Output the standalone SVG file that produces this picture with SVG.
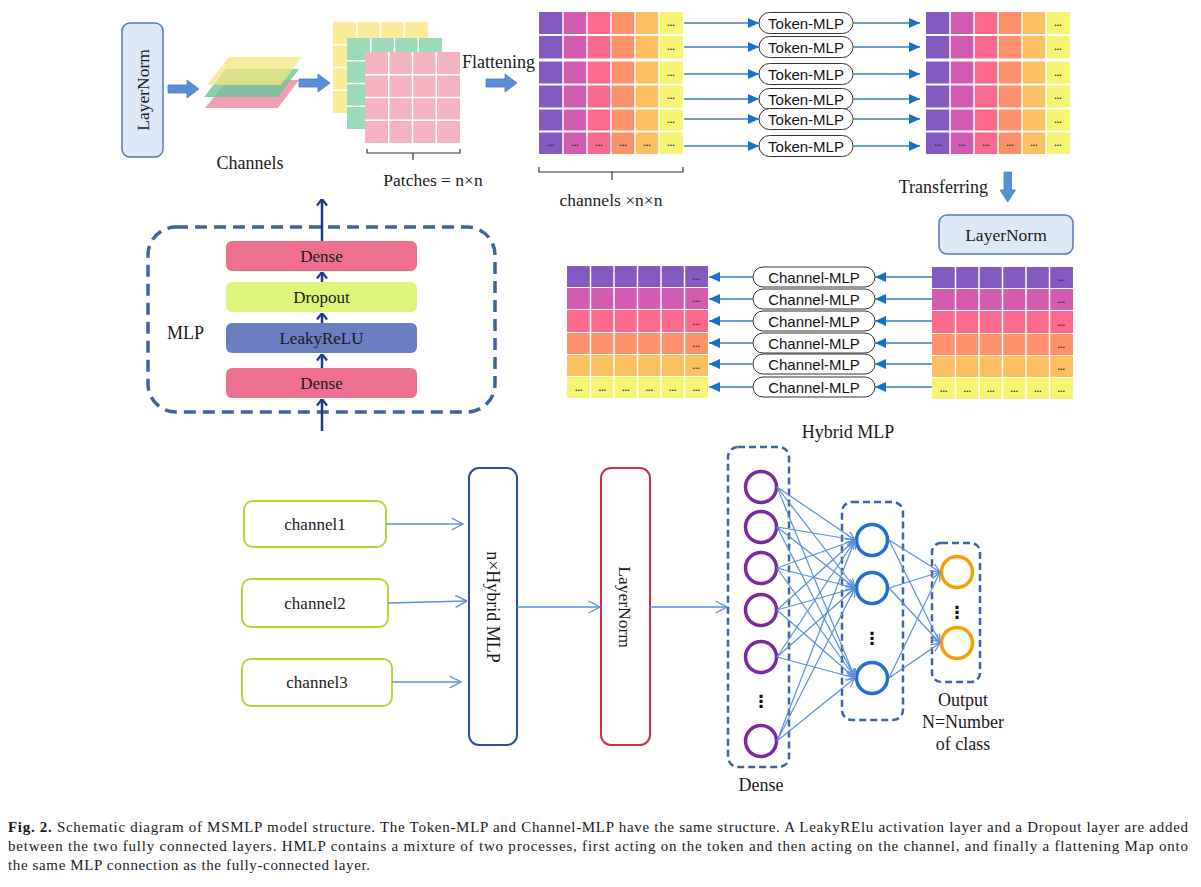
<svg xmlns="http://www.w3.org/2000/svg" xmlns:xlink="http://www.w3.org/1999/xlink" width="1201" height="887" viewBox="0 0 1201 887">
<style>
.serif{font-family:"Liberation Serif","Times New Roman",serif;fill:#1a1a1a}
.sans{font-family:"Liberation Sans",Arial,sans-serif;fill:#111}
.dots{font-family:"Liberation Sans",Arial,sans-serif;font-size:9px;font-weight:bold;fill:#2a2a40;text-anchor:middle}
.pill{fill:#fff;stroke:#333;stroke-width:1}
.ln{fill:#dde8f8;stroke:#5678b0;stroke-width:1.5}
.blk{fill:#5a8ed6;stroke:#4a7cc4;stroke-width:0.8}
.tok{stroke:#3a7fc0;stroke-width:1.3;fill:none;marker-end:url(#tri)}
.navy{stroke:#1f3a80;stroke-width:2.5;fill:none;marker-end:url(#chev)}
.lb{stroke:#5b8fd8;stroke-width:1.4;fill:none;marker-end:url(#openBig)}
.nn{stroke:#5b8fd8;stroke-width:1.2;fill:none;marker-end:url(#openSm)}
.dash{fill:none;stroke:#3f62a0;stroke-width:2.5;stroke-dasharray:7 4}
.chbox{fill:#fff;stroke:#b5d635;stroke-width:2}
.pc{fill:#fff;stroke:#7b2a9e;stroke-width:3.5}
.bc{fill:#fff;stroke:#2170d0;stroke-width:3.5}
.oc{fill:#fff;stroke:#f5a00a;stroke-width:3.5}
.vd{font-family:"DejaVu Sans",sans-serif;font-size:17px;font-weight:bold;fill:#111;text-anchor:middle}
.wl{stroke:#fff;stroke-width:1.5}
</style>
<defs>
<marker id="tri" viewBox="0 0 11 10" refX="11" refY="5" markerWidth="11" markerHeight="10" markerUnits="userSpaceOnUse" orient="auto"><path d="M0,0 L11,5 L0,10 Z" fill="#1670c8"/></marker>
<marker id="chev" viewBox="0 0 8 12" refX="7.5" refY="6" markerWidth="8" markerHeight="12" markerUnits="userSpaceOnUse" orient="auto"><path d="M1,1 L7.5,6 L1,11" fill="none" stroke="#1f3a80" stroke-width="2.2"/></marker>
<marker id="openBig" viewBox="0 0 13 14" refX="12.5" refY="7" markerWidth="13" markerHeight="14" markerUnits="userSpaceOnUse" orient="auto"><path d="M1,1 L12.5,7 L1,13" fill="none" stroke="#5b8fd8" stroke-width="1.4"/></marker>
<marker id="openSm" viewBox="0 0 10 9" refX="9.5" refY="4.5" markerWidth="10" markerHeight="9" markerUnits="userSpaceOnUse" orient="auto"><path d="M0.5,0.5 L9.5,4.5 L0.5,8.5" fill="none" stroke="#5b8fd8" stroke-width="1.2"/></marker>
<g id="tokGrid">
<rect x="0" y="0" width="24" height="142" fill="#8459c0"/>
<rect x="24" y="0" width="24" height="142" fill="#d35cb0"/>
<rect x="48" y="0" width="24" height="142" fill="#fb6a8c"/>
<rect x="72" y="0" width="24" height="142" fill="#fd916a"/>
<rect x="96" y="0" width="24" height="142" fill="#fdc060"/>
<rect x="120" y="0" width="24" height="142" fill="#f6f472"/>
<path class="wl" d="M24,0V142M48,0V142M72,0V142M96,0V142M120,0V142"/>
<path stroke="#fff" stroke-width="2" d="M0,23H144M0,72.5H144M0,96.5H144M0,119.5H144"/>
<path stroke="#fff" stroke-width="3" d="M0,48H144"/>
<text class="dots" x="132" y="14">...</text>
<text class="dots" x="132" y="38">...</text>
<text class="dots" x="132" y="63.5">...</text>
<text class="dots" x="132" y="87">...</text>
<text class="dots" x="132" y="111">...</text>
<text class="dots" x="12" y="134">...</text>
<text class="dots" x="36" y="134">...</text>
<text class="dots" x="60" y="134">...</text>
<text class="dots" x="84" y="134">...</text>
<text class="dots" x="108" y="134">...</text>
<text class="dots" x="132" y="134">...</text>
</g>
<g id="chGrid">
<rect x="0" y="0" width="141" height="21" fill="#8459c0"/>
<rect x="0" y="22" width="141" height="21" fill="#d35cb0"/>
<rect x="0" y="44" width="141" height="22" fill="#fb6a8c"/>
<rect x="0" y="67" width="141" height="21" fill="#fd916a"/>
<rect x="0" y="89" width="141" height="21" fill="#fdc060"/>
<rect x="0" y="111" width="141" height="21" fill="#f6f472"/>
<path class="wl" d="M23.5,0V132M47,0V132M70.5,0V132M94,0V132M117.5,0V132"/>
<text class="dots" x="129.25" y="14">...</text>
<text class="dots" x="129.25" y="36">...</text>
<text class="dots" x="129.25" y="58.5">...</text>
<text class="dots" x="129.25" y="81">...</text>
<text class="dots" x="129.25" y="103">...</text>
<text class="dots" x="11.75" y="125">...</text>
<text class="dots" x="35.25" y="125">...</text>
<text class="dots" x="58.75" y="125">...</text>
<text class="dots" x="82.25" y="125">...</text>
<text class="dots" x="105.75" y="125">...</text>
<text class="dots" x="129.25" y="125">...</text>
</g>
</defs>
<rect width="1201" height="887" fill="#fff"/>

<g id="layernorm-top">
<rect class="ln" x="122" y="23" width="41" height="134" rx="8"/>
<text class="serif" font-size="17.5" text-anchor="middle" transform="translate(148.5,90) rotate(-90)">LayerNorm</text>
</g>

<g id="channels">
<polygon points="228,80 299,80 278,108 205,108" fill="#f4a0b4"/>
<polygon points="226,69 299,69 278,97 204,97" fill="#6cc49a" fill-opacity="0.8"/>
<polygon points="229,57 302,57 281,85 207,85" fill="#f5e680" fill-opacity="0.75"/>
<text class="serif" font-size="18" x="250" y="169" text-anchor="middle">Channels</text>
</g>

<g id="patches">
<rect x="333" y="22" width="95" height="91" fill="#fbeb9a"/>
<path class="wl" d="M356.75,22V113M380.5,22V113M404.25,22V113M333,44.75H428M333,67.5H428M333,90.25H428"/>
<rect x="347" y="38" width="95" height="91" fill="#9cd9b9"/>
<path class="wl" d="M370.75,38V129M394.5,38V129M418.25,38V129M347,60.75H442M347,83.5H442M347,106.25H442"/>
<rect x="365" y="52" width="95" height="91" fill="#f4b3c0"/>
<path class="wl" d="M388.75,52V143M412.5,52V143M436.25,52V143M365,74.75H460M365,97.5H460M365,120.25H460"/>
<path d="M367,149V153H460V149M413,153V160" fill="none" stroke="#333" stroke-width="1.2"/>
<text class="serif" font-size="17.5" x="433" y="186" text-anchor="middle">Patches = n×n</text>
</g>

<g id="flattening-label">
<text class="serif" font-size="18" x="462" y="68">Flattening</text>
</g>

<g id="token-grid-in">
<use xlink:href="#tokGrid" href="#tokGrid" x="539" y="12"/>
<path d="M539,167V172H683V167M612,172V180" fill="none" stroke="#333" stroke-width="1.2"/>
<text class="serif" font-size="17.5" x="611" y="206" text-anchor="middle">channels ×n×n</text>
</g>

<g id="token-grid-out">
<use xlink:href="#tokGrid" href="#tokGrid" x="926" y="12"/>
</g>

<g id="token-mlps">
<rect class="pill" x="759" y="12.5" width="94" height="21" rx="10.5"/>
<rect class="pill" x="759" y="36.5" width="94" height="21" rx="10.5"/>
<rect class="pill" x="759" y="63.5" width="94" height="21" rx="10.5"/>
<rect class="pill" x="759" y="88.5" width="94" height="21" rx="10.5"/>
<rect class="pill" x="759" y="108.5" width="94" height="21" rx="10.5"/>
<rect class="pill" x="759" y="135.5" width="94" height="21" rx="10.5"/>
<g class="sans" font-size="15" text-anchor="middle">
<text x="806" y="28.5">Token-MLP</text>
<text x="806" y="52.5">Token-MLP</text>
<text x="806" y="79.5">Token-MLP</text>
<text x="806" y="104.5">Token-MLP</text>
<text x="806" y="124.5">Token-MLP</text>
<text x="806" y="151.5">Token-MLP</text>
</g>
</g>

<g id="transferring">
<text class="serif" font-size="18" x="988" y="193" text-anchor="end">Transferring</text>
<path class="blk" d="M1004,172H1011.5V190H1015.5L1007.75,202L1000,190H1004Z"/>
</g>

<g id="layernorm-right">
<rect class="ln" x="939" y="215" width="134" height="39" rx="8"/>
<text class="serif" font-size="17.5" x="1006" y="241" text-anchor="middle">LayerNorm</text>
</g>

<g id="channel-grid-out">
<use xlink:href="#chGrid" href="#chGrid" x="567" y="266"/>
</g>
<g id="channel-grid-in">
<use xlink:href="#chGrid" href="#chGrid" x="932" y="267"/>
</g>

<g id="channel-mlps">
<rect class="pill" x="753" y="267" width="122" height="20" rx="10"/>
<rect class="pill" x="753" y="289" width="122" height="20" rx="10"/>
<rect class="pill" x="753" y="311" width="122" height="20" rx="10"/>
<rect class="pill" x="753" y="333" width="122" height="20" rx="10"/>
<rect class="pill" x="753" y="354" width="122" height="20" rx="10"/>
<rect class="pill" x="753" y="377" width="122" height="20" rx="10"/>
<g class="sans" font-size="15" text-anchor="middle">
<text x="814" y="282.5">Channel-MLP</text>
<text x="814" y="304.5">Channel-MLP</text>
<text x="814" y="326.5">Channel-MLP</text>
<text x="814" y="348.5">Channel-MLP</text>
<text x="814" y="369.5">Channel-MLP</text>
<text x="814" y="392.5">Channel-MLP</text>
</g>
</g>

<g id="mlp-block">
<rect x="148" y="227" width="347" height="185" rx="28" fill="none" stroke="#3f62a0" stroke-width="3.5" stroke-dasharray="12 7"/>
<text class="serif" font-size="18" x="167" y="339">MLP</text>
</g>
<g id="dense-top">
<rect x="226" y="241" width="191" height="30" rx="6" fill="#ee7090"/>
<text class="serif" font-size="17" x="321.5" y="262" text-anchor="middle">Dense</text>
</g>
<g id="dropout">
<rect x="226" y="282" width="191" height="30" rx="6" fill="#ddf57a"/>
<text class="serif" font-size="17" x="321.5" y="303" text-anchor="middle">Dropout</text>
</g>
<g id="leakyrelu">
<rect x="226" y="323" width="191" height="30" rx="6" fill="#6a7fc0"/>
<text class="serif" font-size="17" x="321.5" y="344" text-anchor="middle">LeakyReLU</text>
</g>
<g id="dense-bottom">
<rect x="226" y="368" width="191" height="30" rx="6" fill="#ee7090"/>
<text class="serif" font-size="17" x="321.5" y="389" text-anchor="middle">Dense</text>
</g>

<g id="channel1">
<rect class="chbox" x="244" y="501" width="142" height="46" rx="9"/>
<text class="serif" font-size="17" x="315" y="530" text-anchor="middle">channel1</text>
</g>
<g id="channel2">
<rect class="chbox" x="242" y="579" width="146" height="48" rx="9"/>
<text class="serif" font-size="17" x="315" y="609" text-anchor="middle">channel2</text>
</g>
<g id="channel3">
<rect class="chbox" x="242" y="659" width="150" height="47" rx="9"/>
<text class="serif" font-size="17" x="317" y="688" text-anchor="middle">channel3</text>
</g>
<g id="hybrid-mlp-stack">
<rect x="469" y="468" width="48" height="277" rx="10" fill="#fff" stroke="#2d4e9e" stroke-width="2"/>
<text class="serif" font-size="18" text-anchor="middle" transform="translate(487,607) rotate(90)">n×Hybrid MLP</text>
</g>
<g id="layernorm-bottom">
<rect x="601" y="468" width="49" height="277" rx="10" fill="#fff" stroke="#c9304c" stroke-width="2"/>
<text class="serif" font-size="17.5" text-anchor="middle" transform="translate(619,607) rotate(90)">LayerNorm</text>
</g>

<g id="hybrid-label">
<text class="serif" font-size="18" x="848" y="438" text-anchor="middle">Hybrid MLP</text>
</g>

<g id="dense-layer">
<rect class="dash" x="728" y="447" width="61" height="320" rx="10"/>
<circle class="pc" cx="761" cy="487" r="15.5"/>
<circle class="pc" cx="761" cy="527" r="15.5"/>
<circle class="pc" cx="761" cy="568" r="15.5"/>
<circle class="pc" cx="761" cy="610" r="15.5"/>
<circle class="pc" cx="761" cy="657" r="15.5"/>
<text class="vd" x="761" y="707">⋮</text>
<circle class="pc" cx="761" cy="741" r="15.5"/>
<text class="serif" font-size="18" x="761" y="791" text-anchor="middle">Dense</text>
</g>

<g id="hidden-layer">
<rect class="dash" x="842" y="502" width="61" height="218" rx="10"/>
<circle class="bc" cx="872" cy="540" r="15.5"/>
<circle class="bc" cx="872" cy="588" r="15.5"/>
<text class="vd" x="872" y="644">⋮</text>
<circle class="bc" cx="872" cy="678" r="15.5"/>
</g>

<g id="output-layer">
<rect class="dash" x="932" y="543" width="48" height="139" rx="9"/>
<circle class="oc" cx="957" cy="572" r="15.5"/>
<text class="vd" x="957" y="618">⋮</text>
<circle class="oc" cx="957" cy="643" r="15.5"/>
<text class="serif" font-size="18" x="963" y="706" text-anchor="middle">Output</text>
<text class="serif" font-size="18" x="963" y="728" text-anchor="middle">N=Number</text>
<text class="serif" font-size="18" x="963" y="750" text-anchor="middle">of class</text>
</g>

<g id="connectors">
<path class="blk" d="M168,85H187V80L199,89L187,98V93H168Z"/>
<path class="blk" d="M299,79H318V74L330,83L318,92V87H299Z"/>
<path class="blk" d="M486,79H505V74L517,83L505,92V87H486Z"/>
<path class="tok" d="M684,23H759"/>
<path class="tok" d="M684,47H759"/>
<path class="tok" d="M684,74H759"/>
<path class="tok" d="M684,99H759"/>
<path class="tok" d="M684,119H759"/>
<path class="tok" d="M684,146H759"/>
<path class="tok" d="M853,23H920"/>
<path class="tok" d="M853,47H920"/>
<path class="tok" d="M853,74H920"/>
<path class="tok" d="M853,99H920"/>
<path class="tok" d="M853,119H920"/>
<path class="tok" d="M853,146H920"/>
<path class="tok" d="M932,277H875"/>
<path class="tok" d="M932,299H875"/>
<path class="tok" d="M932,321H875"/>
<path class="tok" d="M932,343H875"/>
<path class="tok" d="M932,364H875"/>
<path class="tok" d="M932,387H875"/>
<path class="tok" d="M753,277H709"/>
<path class="tok" d="M753,299H709"/>
<path class="tok" d="M753,321H709"/>
<path class="tok" d="M753,343H709"/>
<path class="tok" d="M753,364H709"/>
<path class="tok" d="M753,387H709"/>
<path class="navy" d="M322,241V199"/>
<path class="navy" d="M322,282V272"/>
<path class="navy" d="M322,323V313"/>
<path class="navy" d="M322,368V354"/>
<path class="navy" d="M322,431V399"/>
<path class="lb" d="M386,524L463,524"/>
<path class="lb" d="M388,603L467,601"/>
<path class="lb" d="M392,682L461,682"/>
<path class="lb" d="M517,607L600,607"/>
<path class="lb" d="M650,607L727,607"/>
<path class="nn" d="M777,487L855,540"/>
<path class="nn" d="M777,487L855,588"/>
<path class="nn" d="M777,487L855,678"/>
<path class="nn" d="M777,527L855,540"/>
<path class="nn" d="M777,527L855,588"/>
<path class="nn" d="M777,527L855,678"/>
<path class="nn" d="M777,568L855,540"/>
<path class="nn" d="M777,568L855,588"/>
<path class="nn" d="M777,568L855,678"/>
<path class="nn" d="M777,610L855,540"/>
<path class="nn" d="M777,610L855,588"/>
<path class="nn" d="M777,610L855,678"/>
<path class="nn" d="M777,657L855,540"/>
<path class="nn" d="M777,657L855,588"/>
<path class="nn" d="M777,657L855,678"/>
<path class="nn" d="M777,741L855,540"/>
<path class="nn" d="M777,741L855,588"/>
<path class="nn" d="M777,741L855,678"/>
<path class="nn" d="M889,540L940,572"/>
<path class="nn" d="M889,540L940,643"/>
<path class="nn" d="M889,588L940,572"/>
<path class="nn" d="M889,588L940,643"/>
<path class="nn" d="M889,678L940,572"/>
<path class="nn" d="M889,678L940,643"/>
</g>

<g id="caption" class="serif" font-size="15">
<text x="8" y="832" textLength="1180" lengthAdjust="spacing"><tspan font-weight="bold">Fig. 2.</tspan>  Schematic diagram of MSMLP model structure. The Token-MLP and Channel-MLP have the same structure. A LeakyRElu activation layer and a Dropout layer are added</text>
<text x="8" y="851" textLength="1180" lengthAdjust="spacing">between the two fully connected layers. HMLP contains a mixture of two processes, first acting on the token and then acting on the channel, and finally a flattening Map onto</text>
<text x="8" y="870" textLength="362" lengthAdjust="spacing">the same MLP connection as the fully-connected layer.</text>
</g>
</svg>
